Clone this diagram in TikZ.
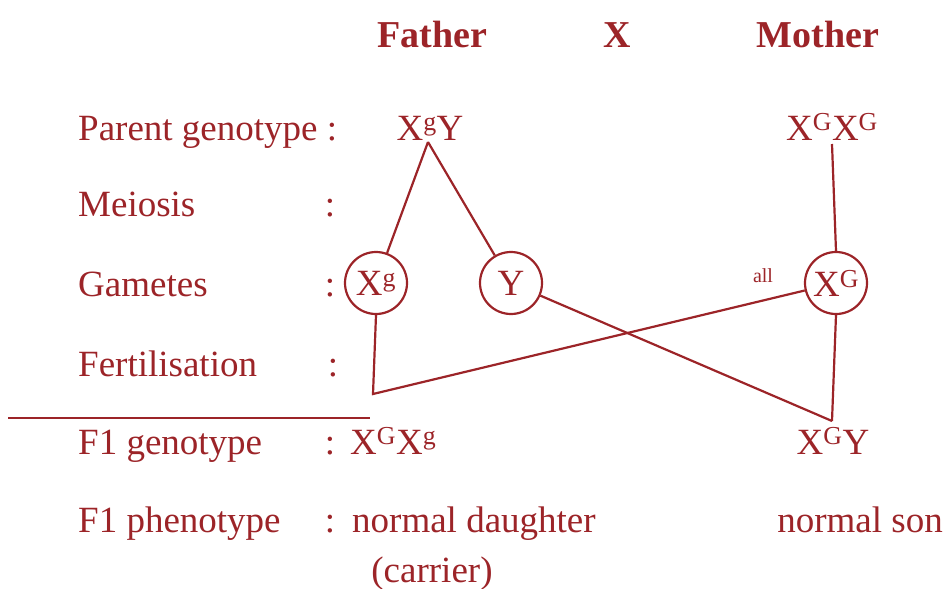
\documentclass[tikz,border=0pt]{standalone}
\usepackage{fontspec}
\setmainfont{Liberation Serif}
\definecolor{ink}{RGB}{156,36,40}
\begin{document}
\begin{tikzpicture}[x=1pt,y=1pt,
  every node/.style={text=ink, inner sep=0pt, font=\fontsize{37}{40}\selectfont, anchor=base},
  head/.style={font=\fontsize{38}{40}\selectfont\bfseries},
  lbl/.style={anchor=base west},
  gam/.style={draw=ink, line width=2.2pt, circle, minimum size=62pt, anchor=center},
  link/.style={draw=ink, line width=2.2pt},
  sm/.style={font=\fontsize{20}{22}\selectfont}]
\useasboundingbox (0,0) rectangle (946,-589);
% headings
\node[head] (father) at (432,-47) {Father};
\node[head] (cross) at (617,-47) {X};
\node[head] (mother) at (818,-47) {Mother};
% row labels
\node[lbl] (l1) at (78,-140) {Parent genotype :};
\node[lbl] (l2) at (78,-216) {Meiosis};
\node (c2) at (330,-216) {:};
\node[lbl] (l3) at (78,-296) {Gametes};
\node (c3) at (330,-296) {:};
\node[lbl] (l4) at (78,-376) {Fertilisation};
\node (c4) at (333,-376) {:};
\node[lbl] (l5) at (78,-454) {F1 genotype};
\node (c5) at (330,-454) {:};
\node[lbl] (l6) at (78,-532) {F1 phenotype};
\node (c6) at (330,-532) {:};
% parents
\node (pf) at (430,-140) {X\textsuperscript{g}Y};
\node (pm) at (832,-140) {X\textsuperscript{G}X\textsuperscript{G}};
% gametes
\node[gam] (gxg) at (376,-283) {X\textsuperscript{g}};
\node[gam] (gy) at (511,-283) {Y};
\node[gam] (gxG) at (836,-283) {X\textsuperscript{G}};
\node[sm] (all) at (763,-282) {all};
% offspring
\node[lbl] (fd) at (350,-454) {X\textsuperscript{G}X\textsuperscript{g}};
\node (fs) at (833,-454) {X\textsuperscript{G}Y};
\node[lbl] (ph1) at (352,-532) {normal daughter};
\node (ph2) at (432,-582) {(carrier)};
\node[anchor=base east] (ph3) at (943,-532) {normal son};
% coordinates
\coordinate (apex) at (428,-142);
\coordinate (mtop) at (832,-144);
\coordinate (corner) at (373,-394);
\coordinate (stop) at (832,-421);
\coordinate (ruleA) at (8,-418);
\coordinate (ruleB) at (370,-418);
% connectors
\draw[link] (apex) -- (gxg);
\draw[link] (apex) -- (gy);
\draw[link] (mtop) -- (gxG.north);
\draw[link] (gxg.south) -- (corner) -- (gxG);
\draw[link] (gy) -- (stop);
\draw[link] (gxG.south) -- (stop);
\draw[link] (ruleA) -- (ruleB);
\end{tikzpicture}
\end{document}
